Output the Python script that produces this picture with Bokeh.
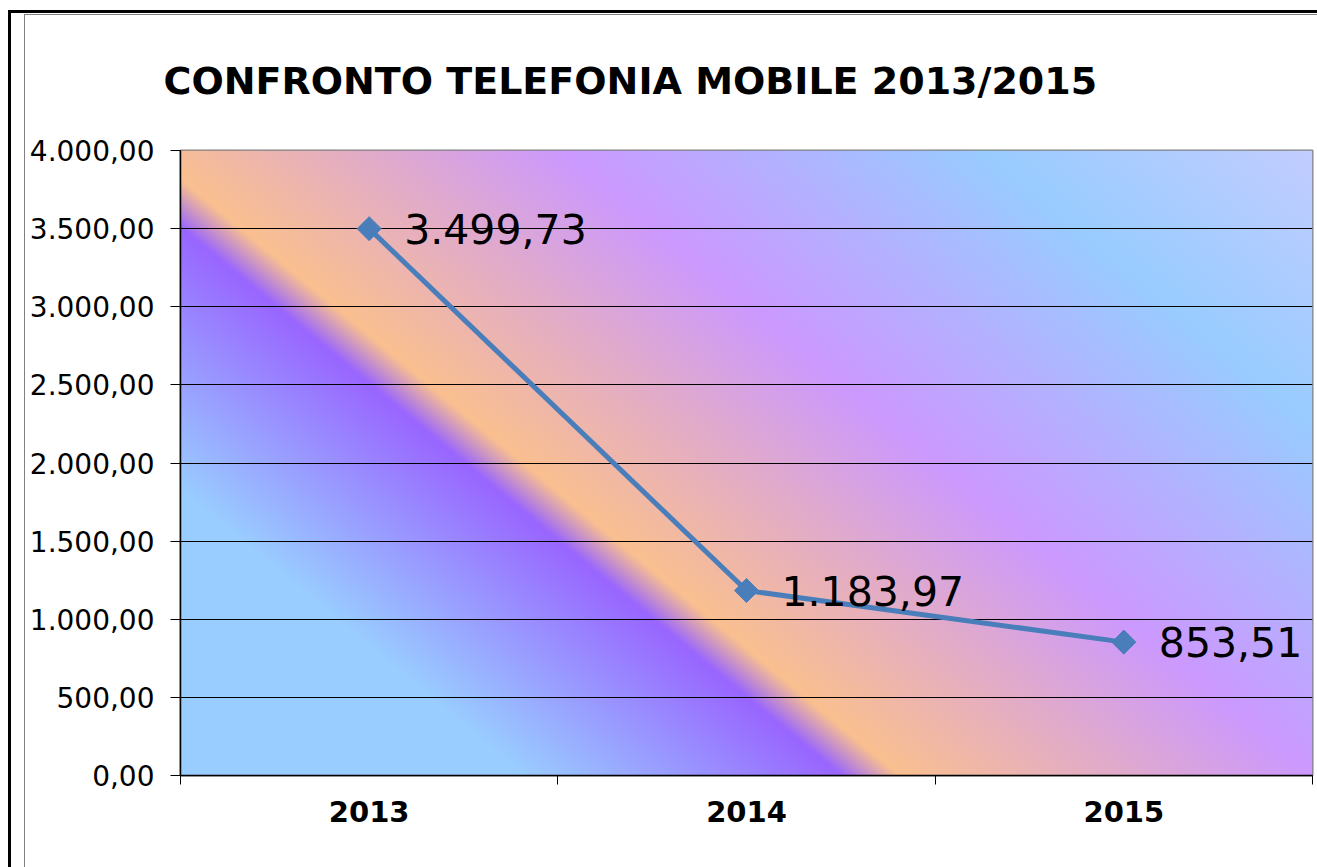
import numpy as np
from bokeh.plotting import figure
from bokeh.models import Range1d, FixedTicker, ColumnDataSource
from bokeh.core.properties import value
from bokeh.embed import file_html
from bokeh.resources import INLINE

# ---- data ----
title_text = "CONFRONTO TELEFONIA MOBILE 2013/2015"
years = ["2013", "2014", "2015"]
costs = [3499.73, 1183.97, 853.51]
y_ticks = [0, 500, 1000, 1500, 2000, 2500, 3000, 3500, 4000]


def it_fmt(v):
    s = f"{v:,.2f}"
    return s.replace(",", "#").replace(".", ",").replace("#", ".")


# ---- layout ----
FL, FT, FW, FH = 180, 150, 1132, 625
BR, BB = 5, 92

p = figure(frame_width=FW, frame_height=FH,
           min_border_left=FL, min_border_top=FT,
           min_border_right=BR, min_border_bottom=BB,
           x_range=Range1d(0, len(years)), y_range=Range1d(0, y_ticks[-1]),
           output_backend="svg", toolbar_location=None)

p.border_fill_color = None
p.background_fill_color = None
p.outline_line_color = "#808080"
p.outline_line_width = 2
p.styles = {
    "background-color": "white",
    "box-shadow": ("inset 8px 10px 0 0 #ffffff, inset 11px 13px 0 0 #000000, "
                   "inset 24px 14px 0 0 #ffffff, inset 25px 15px 0 0 #808080"),
}

# ---- title ----
p.title.text = title_text
p.title.text_font = "DejaVu Sans"
p.title.text_font_style = "bold"
p.title.text_font_size = "38px"
p.title.text_color = "black"
p.title.align = "left"
p.title.offset = -17
p.title.standoff = 96

# ---- gradient background of the plot area ----
ny, nx = FH, FW
xx = (np.arange(nx) + 0.5) * 1132.0 / FW
yy = np.arange(ny) + 0.5
X, Y = np.meshgrid(xx, yy)
S = X - Y / 0.83
stops = [(-900, "#99CCFF"), (-405, "#99CCFF"), (-92, "#9966FF"), (-34, "#FAC090"),
         (380, "#CC99FF"), (800, "#99CCFF"), (1200, "#CCCCFF")]
pos = [s for s, _ in stops]
rgb = np.zeros((ny, nx, 4), dtype=np.uint8)
for ch in range(3):
    vals = [int(c[1 + 2 * ch:3 + 2 * ch], 16) for _, c in stops]
    rgb[:, :, ch] = np.clip(np.interp(S, pos, vals), 0, 255).astype(np.uint8)
rgb[:, :, 3] = 255
img = rgb[::-1].copy().view(np.uint32).reshape(ny, nx)
p.image_rgba(image=[img], x=0, y=0, dw=len(years), dh=y_ticks[-1], level="image")

# ---- grid ----
p.xgrid.visible = False
p.ygrid.ticker = FixedTicker(ticks=y_ticks[1:-1])
p.ygrid.grid_line_color = "black"
p.ygrid.grid_line_width = 1

# ---- y axis ----
p.yaxis.ticker = FixedTicker(ticks=y_ticks)
p.yaxis.major_label_overrides = {t: it_fmt(t) for t in y_ticks}
p.yaxis.minor_tick_line_color = None
p.yaxis.major_tick_out = 10
p.yaxis.major_tick_in = 0
p.yaxis.major_tick_line_color = "black"
p.yaxis.axis_line_color = "black"
p.yaxis.axis_line_width = 1.5
p.yaxis.major_label_text_font = "DejaVu Sans"
p.yaxis.major_label_text_font_size = "28px"
p.yaxis.major_label_text_color = "black"
p.yaxis.major_label_standoff = 16

# ---- x axis ----
centers = [i + 0.5 for i in range(len(years))]
edges = [float(i) for i in range(len(years) + 1)]
p.xaxis.ticker = FixedTicker(ticks=centers, minor_ticks=edges)
p.xaxis.major_label_overrides = {c: y for c, y in zip(centers, years)}
p.xaxis.major_tick_line_color = None
p.xaxis.major_tick_out = 0
p.xaxis.major_tick_in = 0
p.xaxis.minor_tick_line_color = "black"
p.xaxis.minor_tick_out = 9
p.xaxis.minor_tick_in = 0
p.xaxis.axis_line_color = "black"
p.xaxis.axis_line_width = 1.5
p.xaxis.major_label_text_font = "DejaVu Sans"
p.xaxis.major_label_text_font_style = "bold"
p.xaxis.major_label_text_font_size = "29px"
p.xaxis.major_label_text_color = "black"
p.xaxis.major_label_standoff = 16

# ---- series ----
src = ColumnDataSource(data=dict(x=centers, y=costs, lab=[it_fmt(v) for v in costs]))
p.line(x="x", y="y", source=src, line_color="#4A7EBB", line_width=5)
p.scatter(x="x", y="y", source=src, marker="square", angle=np.pi / 4, size=17,
          fill_color="#4A7EBB", line_color="#4A7EBB")
p.text(x="x", y="y", text="lab", source=src, x_offset=35, text_baseline="middle",
       text_align="left", text_font=value("DejaVu Sans"), text_font_size="41px",
       text_color="black")

open("out.html", "w").write(file_html(p, INLINE))
